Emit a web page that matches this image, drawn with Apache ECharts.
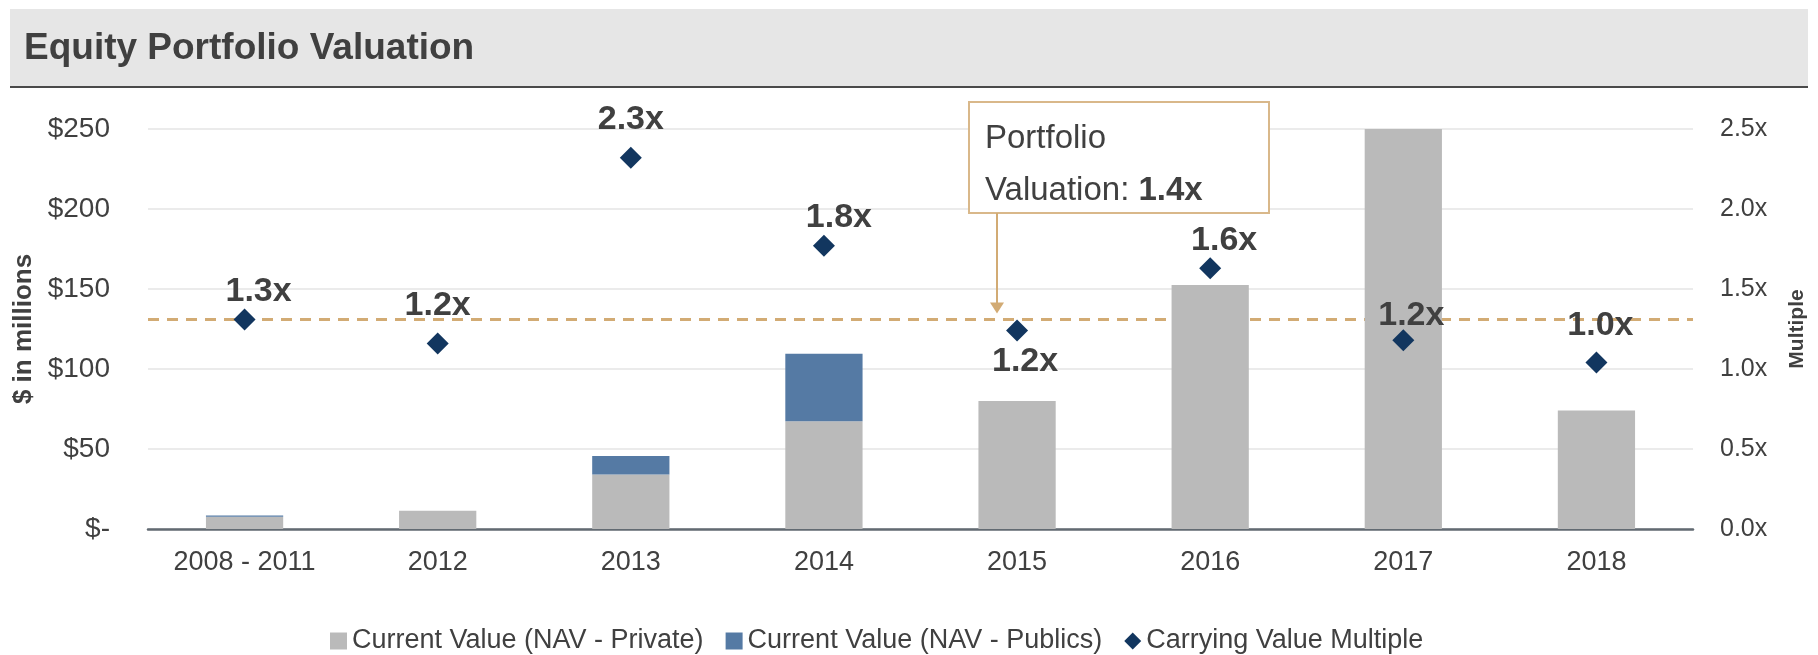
<!DOCTYPE html>
<html>
<head>
<meta charset="utf-8">
<script src="https://cdn.jsdelivr.net/npm/echarts@6/dist/echarts.min.js"></script>
<style>
  html, body { margin: 0; padding: 0; background: #ffffff; }
  #chart { width: 1818px; height: 655px; }
</style>
</head>
<body>
<div id="chart"></div>
<script>
// ---- Data ----
const categories = ['2008 - 2011', '2012', '2013', '2014', '2015', '2016', '2017', '2018'];
const navPrivate = [7.7, 11.4, 34, 67.3, 80, 152.5, 250.5, 74];
const navPublics = [0.8, 0, 11.6, 42.3, 0, 0, 0, 0];
const carryingMultiple = [1.31, 1.16, 2.32, 1.77, 1.24, 1.63, 1.18, 1.04];
const leftTicks = [0, 50, 100, 150, 200, 250];
const rightTicks = [0, 0.5, 1.0, 1.5, 2.0, 2.5];
const portfolioLineValue = 1.31;
const portfolioLabel = '1.4x';
const seriesNames = ['Current Value (NAV - Private)', 'Current Value (NAV - Publics)', 'Carrying Value Multiple'];
const titleText = 'Equity Portfolio Valuation';

// ---- Label placement (style only, keyed by category) ----
const labelBelow = { '2015': true };
const labelShift = {
  '2008 - 2011': [14, 0], '2012': [0, -10], '2013': [0, -10], '2014': [15, 0],
  '2015': [8, 0], '2016': [14, 0], '2017': [8, 3], '2018': [4, -9]
};

const FONT = "'Liberation Sans Narrow', 'Arial Narrow', 'Liberation Sans', Arial, sans-serif";
const TXT = '#404040';
const TAN = '#d2ab74';

const chart = echarts.init(document.getElementById('chart'), null, { renderer: 'canvas' });

const scatterData = carryingMultiple.map((v, i) => {
  const c = categories[i];
  return {
    value: v,
    label: {
      position: labelBelow[c] ? 'bottom' : 'top',
      distance: labelBelow[c] ? 3 : 0,
      offset: labelShift[c] || [10, 0]
    }
  };
});

const option = {
  backgroundColor: '#ffffff',
  animation: false,
  textStyle: { fontFamily: FONT },
  grid: { left: 148, right: 125, top: 129, bottom: 126, containLabel: false },
  legend: {
    left: 325,
    top: 620,
    itemWidth: 17,
    itemHeight: 17,
    itemGap: 22,
    textStyle: { fontFamily: FONT, fontSize: 27, color: TXT, lineHeight: 32 },
    data: [
      { name: seriesNames[0], icon: 'rect' },
      { name: seriesNames[1], icon: 'rect' },
      { name: seriesNames[2], icon: 'diamond' }
    ]
  },
  xAxis: {
    type: 'category',
    data: categories,
    axisLine: { show: true, lineStyle: { color: '#626a72', width: 2.5 } },
    axisTick: { show: false },
    axisLabel: { fontFamily: FONT, fontSize: 27, color: TXT, margin: 20, interval: 0 }
  },
  yAxis: [
    {
      type: 'value',
      min: leftTicks[0],
      max: leftTicks[leftTicks.length - 1],
      interval: leftTicks[1] - leftTicks[0],
      name: '$ in millions',
      nameLocation: 'middle',
      nameRotate: 90,
      nameGap: 106,
      nameTextStyle: { fontFamily: FONT, fontSize: 26, fontWeight: 'bold', color: TXT },
      axisLine: { show: false },
      axisTick: { show: false },
      splitLine: { show: true, lineStyle: { color: '#e4e4e4', width: 1.5 } },
      axisLabel: {
        fontFamily: FONT, fontSize: 28, color: TXT, margin: 38,
        formatter: v => v === 0 ? '$-' : '$' + v
      }
    },
    {
      type: 'value',
      min: rightTicks[0],
      max: rightTicks[rightTicks.length - 1],
      interval: rightTicks[1] - rightTicks[0],
      name: 'Multiple',
      nameLocation: 'middle',
      nameRotate: 90,
      nameGap: 94,
      nameTextStyle: { fontFamily: FONT, fontSize: 21, fontWeight: 'bold', color: TXT },
      axisLine: { show: false },
      axisTick: { show: false },
      splitLine: { show: false },
      axisLabel: {
        fontFamily: FONT, fontSize: 25, color: TXT, margin: 27,
        formatter: v => v.toFixed(1) + 'x'
      }
    }
  ],
  series: [
    {
      name: seriesNames[0],
      type: 'bar',
      stack: 'nav',
      barWidth: '40%',
      yAxisIndex: 0,
      itemStyle: { color: '#bababa' },
      data: navPrivate
    },
    {
      name: seriesNames[1],
      type: 'bar',
      stack: 'nav',
      barWidth: '40%',
      yAxisIndex: 0,
      itemStyle: { color: '#557aa4' },
      data: navPublics
    },
    {
      name: seriesNames[2],
      type: 'scatter',
      yAxisIndex: 1,
      symbol: 'diamond',
      symbolSize: 22,
      itemStyle: { color: '#12365f', opacity: 1 },
      z: 5,
      label: {
        show: true,
        position: 'top',
        fontFamily: FONT,
        fontSize: 34,
        fontWeight: 'bold',
        color: TXT,
        opacity: 1,
        formatter: p => p.value.toFixed(1) + 'x'
      },
      markLine: {
        silent: true,
        symbol: ['none', 'none'],
        label: { show: false },
        lineStyle: { color: TAN, type: [11, 8], width: 3, opacity: 1 },
        z: 1,
        data: [{ yAxis: portfolioLineValue }]
      },
      data: scatterData
    }
  ]
};

chart.setOption(option);

// ---- Title band and annotation (layout graphics) ----
const tip = chart.convertToPixel({ xAxisIndex: 0, yAxisIndex: 1 }, ['2015', portfolioLineValue]);
const ax = Math.round(tip[0]) - 20;
const tipY = tip[1] - 6;
const boxLeft = ax - 28, boxTop = 102, boxW = 300, boxH = 111;

chart.setOption({
  graphic: [
    {
      type: 'rect', shape: { x: 10, y: 9, width: 1798, height: 78 },
      style: { fill: '#e6e6e6' }, z: 0, silent: true
    },
    {
      type: 'line', shape: { x1: 10, y1: 87, x2: 1808, y2: 87 },
      style: { stroke: '#4a4a4a', lineWidth: 2 }, z: 1, silent: true
    },
    {
      type: 'text', x: 24, y: 49,
      style: {
        text: titleText, fontFamily: FONT, fontSize: 37, fontWeight: 'bold',
        fill: TXT, verticalAlign: 'middle', align: 'left'
      }, z: 2
    },
    {
      type: 'rect', shape: { x: boxLeft, y: boxTop, width: boxW, height: boxH },
      style: { fill: '#ffffff', stroke: '#d9b88a', lineWidth: 2 }, z: 10, silent: true
    },
    {
      type: 'text', x: boxLeft + 16, y: boxTop + 11,
      style: {
        text: '{n|Portfolio}\n{n|Valuation: }{b|' + portfolioLabel + '}',
        verticalAlign: 'top', align: 'left',
        rich: {
          n: { fontFamily: FONT, fontSize: 33, fill: TXT, color: TXT, lineHeight: 52 },
          b: { fontFamily: FONT, fontSize: 33, fontWeight: 'bold', fill: TXT, color: TXT, lineHeight: 52 }
        }
      }, z: 11
    },
    {
      type: 'line', shape: { x1: ax, y1: boxTop + boxH, x2: ax, y2: tipY - 10 },
      style: { stroke: TAN, lineWidth: 2 }, z: 10, silent: true
    },
    {
      type: 'polygon', shape: { points: [[ax - 7, tipY - 11], [ax + 7, tipY - 11], [ax, tipY]] },
      style: { fill: TAN }, z: 10, silent: true
    }
  ]
});
</script>
</body>
</html>
